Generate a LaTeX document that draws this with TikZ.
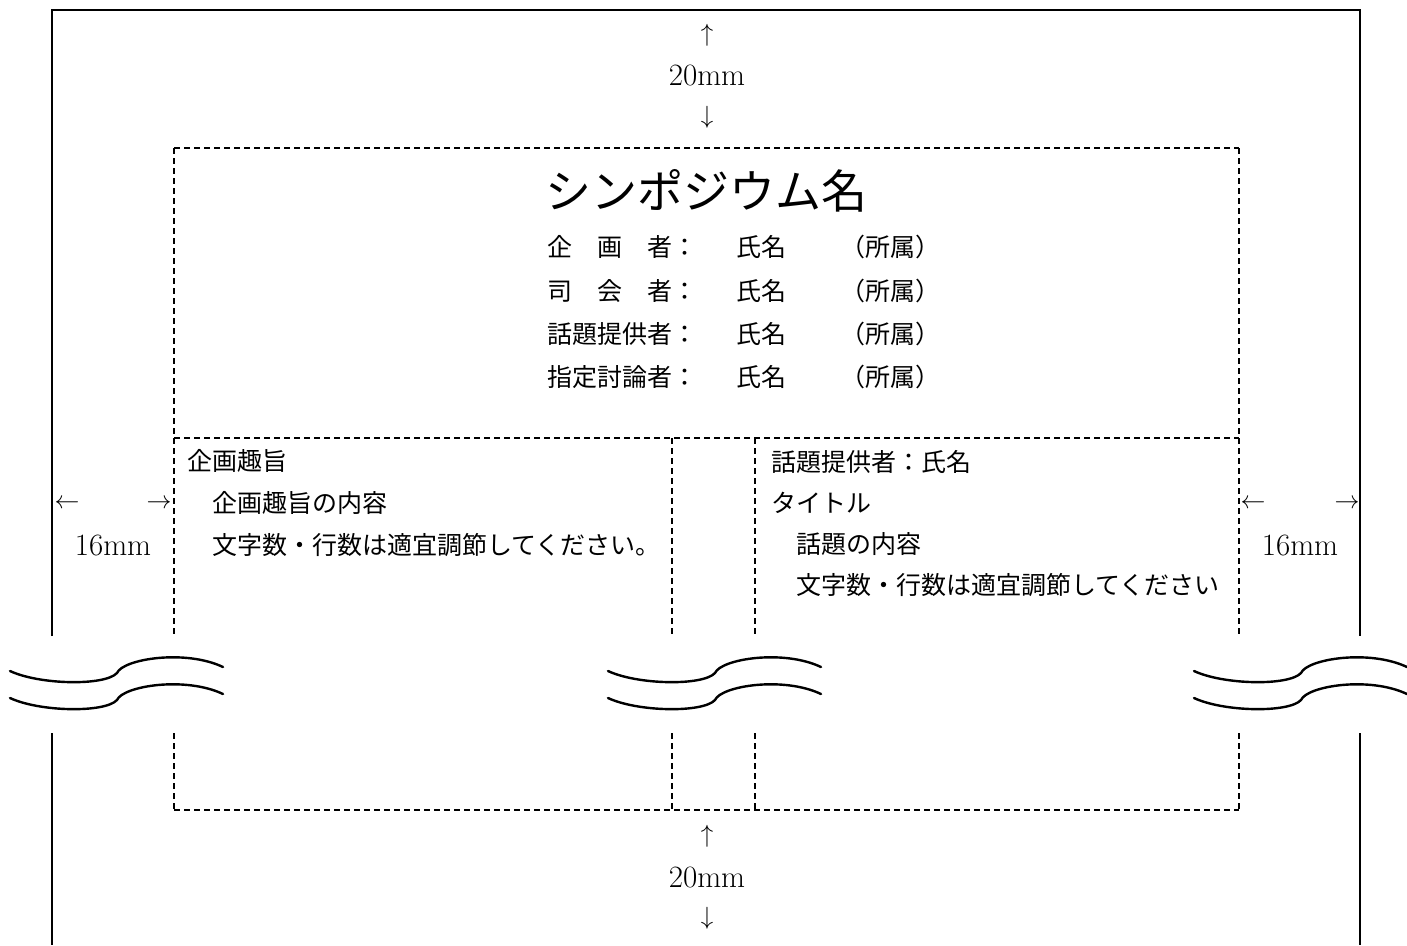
\documentclass[tikz,border=0pt]{standalone}
\usepackage{fontspec}
\newfontfamily\jp{Noto Sans CJK JP}
\begin{document}
\begin{tikzpicture}[x=1pt,y=-1pt,
  outer/.style={line width=2pt},
  dshh/.style={line width=1.4pt, dash pattern=on 6pt off 4pt},
  dshv/.style={line width=2.4pt, dash pattern=on 6pt off 4pt},
  brkline/.style={line width=2.4pt, line cap=round},
  jtxt/.style={font=\jp\fontsize{25}{30}\selectfont, inner sep=0pt, anchor=west},
  dim/.style={font=\fontsize{31}{35}\selectfont, inner sep=0pt},
  arr/.style={font=\fontsize{29}{33}\selectfont, inner sep=0pt},
  brk/.pic={
    \draw[brkline] (0,0) .. controls (30,14) and (95,15) .. (107,2)
                         .. controls (113,-12) and (175,-22) .. (213,-4);
    \draw[brkline] (0,27) .. controls (30,41) and (95,42) .. (107,29)
                          .. controls (113,15) and (175,5) .. (213,23);
  }]
\useasboundingbox (0,0) rectangle (1407,945);

% outer page frame (solid)
\coordinate (OTL) at (52,10);
\coordinate (OTR) at (1360,10);
\coordinate (OLa) at (52,636);
\coordinate (OLb) at (52,733);
\coordinate (OLc) at (52,945);
\coordinate (ORa) at (1360,636);
\coordinate (ORb) at (1360,733);
\coordinate (ORc) at (1360,945);
\draw[outer] (OLa) -- (OTL) -- (OTR) -- (ORa);
\draw[outer] (OLb) -- (OLc);
\draw[outer] (ORb) -- (ORc);

% inner dashed frame
\coordinate (ITL) at (174,148);
\coordinate (ITR) at (1239,148);
\coordinate (IML) at (174,438);
\coordinate (IMR) at (1239,438);
\coordinate (IBL) at (174,810);
\coordinate (IBR) at (1239,810);
\coordinate (LA) at (174,635);
\coordinate (LB) at (174,733);
\coordinate (RA) at (1239,635);
\coordinate (RB) at (1239,733);
\coordinate (C1T) at (672,438);
\coordinate (C1A) at (672,635);
\coordinate (C1B) at (672,733);
\coordinate (C1C) at (672,810);
\coordinate (C2T) at (755,438);
\coordinate (C2A) at (755,635);
\coordinate (C2B) at (755,733);
\coordinate (C2C) at (755,810);

\draw[dshh] (ITL) -- (ITR);
\draw[dshh] (IML) -- (IMR);
\draw[dshh] (IBL) -- (IBR);
\draw[dshv] (ITL) -- (LA);
\draw[dshv] (LB) -- (IBL);
\draw[dshv] (ITR) -- (RA);
\draw[dshv] (RB) -- (IBR);
\draw[dshv] (C1T) -- (C1A);
\draw[dshv] (C1B) -- (C1C);
\draw[dshv] (C2T) -- (C2A);
\draw[dshv] (C2B) -- (C2C);

% break marks
\pic at (10,671) {brk};
\pic at (608,671) {brk};
\pic at (1194,671) {brk};

% dimensions
\node[arr] (tu) at (707,35) {$\uparrow$};
\node[dim] (tt) at (707,76) {20mm};
\node[arr] (td) at (707,117) {$\downarrow$};
\node[arr] (bu) at (707,836) {$\uparrow$};
\node[dim] (bt) at (707,877) {20mm};
\node[arr] (bd) at (707,918) {$\downarrow$};
\node[arr] (ll) at (67,504) {$\leftarrow$};
\node[arr] (lr) at (159,504) {$\rightarrow$};
\node[dim] (lt) at (113,545) {16mm};
\node[arr] (rl) at (1253,504) {$\leftarrow$};
\node[arr] (rr) at (1347,504) {$\rightarrow$};
\node[dim] (rt) at (1300,545) {16mm};

% title block
\node[inner sep=0pt, font=\jp\fontsize{46}{50}\selectfont] (title) at (706,191) {シンポジウム名};
\node[jtxt] (r1a) at (547,247) {企　画　者：};
\node[jtxt] (r1b) at (736,247) {氏名};
\node[jtxt] (r1c) at (840,247) {（所属）};
\node[jtxt] (r2a) at (547,291) {司　会　者：};
\node[jtxt] (r2b) at (736,291) {氏名};
\node[jtxt] (r2c) at (840,291) {（所属）};
\node[jtxt] (r3a) at (547,334) {話題提供者：};
\node[jtxt] (r3b) at (736,334) {氏名};
\node[jtxt] (r3c) at (840,334) {（所属）};
\node[jtxt] (r4a) at (547,377) {指定討論者：};
\node[jtxt] (r4b) at (736,377) {氏名};
\node[jtxt] (r4c) at (840,377) {（所属）};

% left column
\node[jtxt] (l1) at (187,461) {企画趣旨};
\node[jtxt] (l2) at (212,503) {企画趣旨の内容};
\node[jtxt] (l3) at (212,545) {文字数・行数は適宜調節してください。};

% right column
\node[jtxt] (p1) at (771,462) {話題提供者：氏名};
\node[jtxt] (p2) at (771,503) {タイトル};
\node[jtxt] (p3) at (796,544) {話題の内容};
\node[jtxt] (p4) at (796,585) {文字数・行数は適宜調節してください};
\end{tikzpicture}
\end{document}
